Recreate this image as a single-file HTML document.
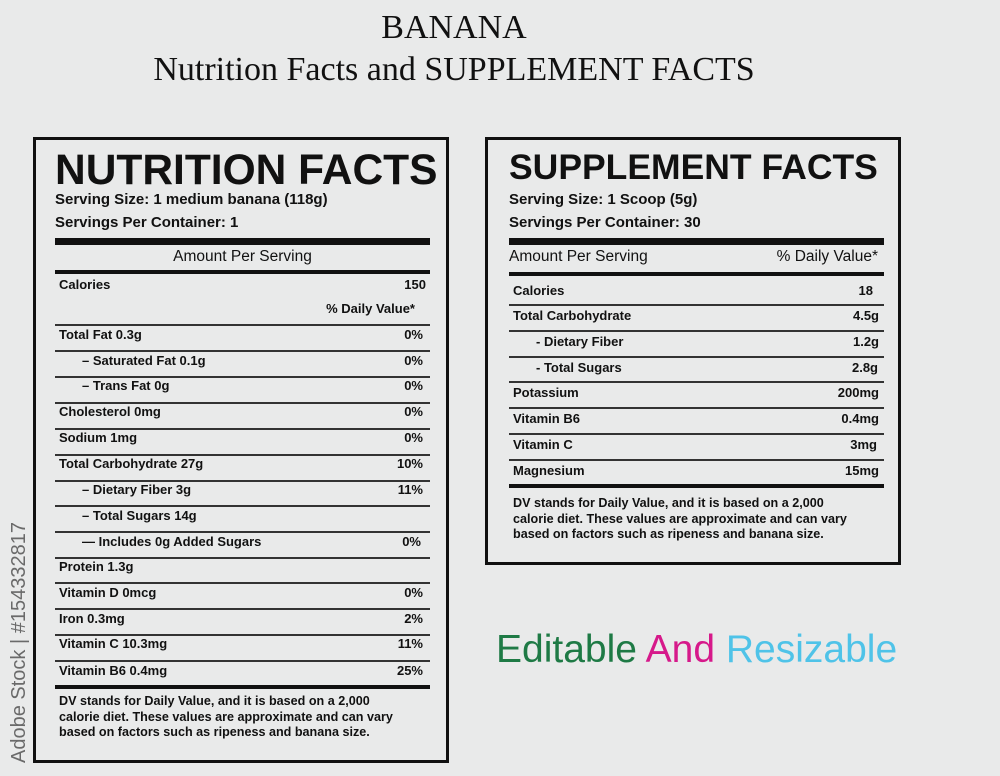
<!DOCTYPE html>
<html><head><meta charset="utf-8"><style>
*{margin:0;padding:0;box-sizing:border-box}
body{width:1000px;height:776px;background:#e9eaea;position:relative;overflow:hidden;font-family:"Liberation Sans",Arial,sans-serif;color:#111}
.a{position:absolute;white-space:nowrap}
.t{font-family:"Liberation Serif",serif;font-size:34px;color:#111;text-align:center;width:1000px;left:-46px}
.box{position:absolute;border:3px solid #111}
.ln{position:absolute;height:1.5px;background:#333}
.bar{position:absolute;background:#111}
.r{font-size:13px;font-weight:bold;line-height:16px}
.v{font-size:13px;font-weight:bold;line-height:16px;text-align:right}
.d{font-size:12.6px;font-weight:bold;line-height:15.5px}
</style></head><body>
<div class="a t" style="top:9px">BANANA</div>
<div class="a t" style="top:51px">Nutrition Facts and SUPPLEMENT FACTS</div>

<div class="a" style="left:8px;top:763px;transform:rotate(-90deg);transform-origin:0 0;font-size:20px;color:#6a6a6a;width:240px">Adobe Stock | #154332817</div>

<!-- LEFT -->
<div class="box" style="left:33px;top:137px;width:416px;height:626px"></div>
<div class="a" style="left:55px;top:147px;font-size:42.5px;font-weight:bold">NUTRITION FACTS</div>
<div class="a" style="left:55px;top:191px;font-size:15px;font-weight:bold">Serving Size: 1 medium banana (118g)</div>
<div class="a" style="left:55px;top:214px;font-size:15px;font-weight:bold">Servings Per Container: 1</div>
<div class="bar" style="left:55px;top:238px;width:375px;height:7px"></div>
<div class="a" style="left:55px;width:375px;text-align:center;top:248px;font-size:15.5px">Amount Per Serving</div>
<div class="bar" style="left:55px;top:270px;width:375px;height:4px"></div>
<div class="a r" style="left:59px;top:277px">Calories</div>
<div class="a v" style="left:300px;width:126px;top:277px">150</div>
<div class="a v" style="left:250px;width:165px;top:301px">% Daily Value*</div>

<div class="ln" style="left:55px;width:375px;top:324px"></div>
<div class="a r" style="left:59px;top:327px">Total Fat 0.3g</div><div class="a v" style="left:300px;width:123px;top:327px">0%</div>
<div class="ln" style="left:55px;width:375px;top:350px"></div>
<div class="a r" style="left:82px;top:353px">– Saturated Fat 0.1g</div><div class="a v" style="left:300px;width:123px;top:353px">0%</div>
<div class="ln" style="left:55px;width:375px;top:376px"></div>
<div class="a r" style="left:82px;top:378px">– Trans Fat 0g</div><div class="a v" style="left:300px;width:123px;top:378px">0%</div>
<div class="ln" style="left:55px;width:375px;top:402px"></div>
<div class="a r" style="left:59px;top:404px">Cholesterol 0mg</div><div class="a v" style="left:300px;width:123px;top:404px">0%</div>
<div class="ln" style="left:55px;width:375px;top:428px"></div>
<div class="a r" style="left:59px;top:430px">Sodium 1mg</div><div class="a v" style="left:300px;width:123px;top:430px">0%</div>
<div class="ln" style="left:55px;width:375px;top:454px"></div>
<div class="a r" style="left:59px;top:456px">Total Carbohydrate 27g</div><div class="a v" style="left:300px;width:123px;top:456px">10%</div>
<div class="ln" style="left:55px;width:375px;top:480px"></div>
<div class="a r" style="left:82px;top:482px">– Dietary Fiber 3g</div><div class="a v" style="left:300px;width:123px;top:482px">11%</div>
<div class="ln" style="left:55px;width:375px;top:505px"></div>
<div class="a r" style="left:82px;top:508px">– Total Sugars 14g</div>
<div class="ln" style="left:55px;width:375px;top:531px"></div>
<div class="a r" style="left:82px;top:534px">— Includes 0g Added Sugars</div><div class="a v" style="left:300px;width:121px;top:534px">0%</div>
<div class="ln" style="left:55px;width:375px;top:557px"></div>
<div class="a r" style="left:59px;top:559px">Protein 1.3g</div>
<div class="ln" style="left:55px;width:375px;top:582px"></div>
<div class="a r" style="left:59px;top:585px">Vitamin D 0mcg</div><div class="a v" style="left:300px;width:123px;top:585px">0%</div>
<div class="ln" style="left:55px;width:375px;top:608px"></div>
<div class="a r" style="left:59px;top:611px">Iron 0.3mg</div><div class="a v" style="left:300px;width:123px;top:611px">2%</div>
<div class="ln" style="left:55px;width:375px;top:634px"></div>
<div class="a r" style="left:59px;top:636px">Vitamin C 10.3mg</div><div class="a v" style="left:300px;width:123px;top:636px">11%</div>
<div class="ln" style="left:55px;width:375px;top:660px"></div>
<div class="a r" style="left:59px;top:663px">Vitamin B6 0.4mg</div><div class="a v" style="left:300px;width:123px;top:663px">25%</div>
<div class="bar" style="left:55px;top:685px;width:375px;height:4px"></div>
<div class="a d" style="left:59px;top:694px">DV stands for Daily Value, and it is based on a 2,000<br>calorie diet. These values are approximate and can vary<br>based on factors such as ripeness and banana size.</div>

<!-- RIGHT -->
<div class="box" style="left:485px;top:137px;width:416px;height:428px"></div>
<div class="a" style="left:509px;top:147px;font-size:35.5px;font-weight:bold">SUPPLEMENT FACTS</div>
<div class="a" style="left:509px;top:191px;font-size:15px;font-weight:bold">Serving Size: 1 Scoop (5g)</div>
<div class="a" style="left:509px;top:214px;font-size:15px;font-weight:bold">Servings Per Container: 30</div>
<div class="bar" style="left:509px;top:238px;width:375px;height:7px"></div>
<div class="a" style="left:509px;top:248px;font-size:15.5px">Amount Per Serving</div>
<div class="a" style="left:700px;width:178px;text-align:right;top:248px;font-size:15.5px">% Daily Value*</div>
<div class="bar" style="left:509px;top:272px;width:375px;height:3.5px"></div>
<div class="a r" style="left:513px;top:283px">Calories</div><div class="a v" style="left:740px;width:133px;top:283px">18</div>
<div class="ln" style="left:509px;width:375px;top:304px"></div>
<div class="a r" style="left:513px;top:308px">Total Carbohydrate</div><div class="a v" style="left:740px;width:139px;top:308px">4.5g</div>
<div class="ln" style="left:509px;width:375px;top:330px"></div>
<div class="a r" style="left:536px;top:334px">- Dietary Fiber</div><div class="a v" style="left:740px;width:139px;top:334px">1.2g</div>
<div class="ln" style="left:509px;width:375px;top:356px"></div>
<div class="a r" style="left:536px;top:360px">- Total Sugars</div><div class="a v" style="left:740px;width:138px;top:360px">2.8g</div>
<div class="ln" style="left:509px;width:375px;top:381px"></div>
<div class="a r" style="left:513px;top:385px">Potassium</div><div class="a v" style="left:740px;width:139px;top:385px">200mg</div>
<div class="ln" style="left:509px;width:375px;top:407px"></div>
<div class="a r" style="left:513px;top:411px">Vitamin B6</div><div class="a v" style="left:740px;width:139px;top:411px">0.4mg</div>
<div class="ln" style="left:509px;width:375px;top:433px"></div>
<div class="a r" style="left:513px;top:437px">Vitamin C</div><div class="a v" style="left:740px;width:137px;top:437px">3mg</div>
<div class="ln" style="left:509px;width:375px;top:459px"></div>
<div class="a r" style="left:513px;top:463px">Magnesium</div><div class="a v" style="left:740px;width:139px;top:463px">15mg</div>
<div class="bar" style="left:509px;top:484px;width:375px;height:4px"></div>
<div class="a d" style="left:513px;top:496px">DV stands for Daily Value, and it is based on a 2,000<br>calorie diet. These values are approximate and can vary<br>based on factors such as ripeness and banana size.</div>

<div class="a" style="left:496px;top:628px;font-size:39px"><span style="color:#1e7a45">Editable</span> <span style="color:#d6198a">And</span> <span style="color:#4fc3e8">Resizable</span></div>
</body></html>
